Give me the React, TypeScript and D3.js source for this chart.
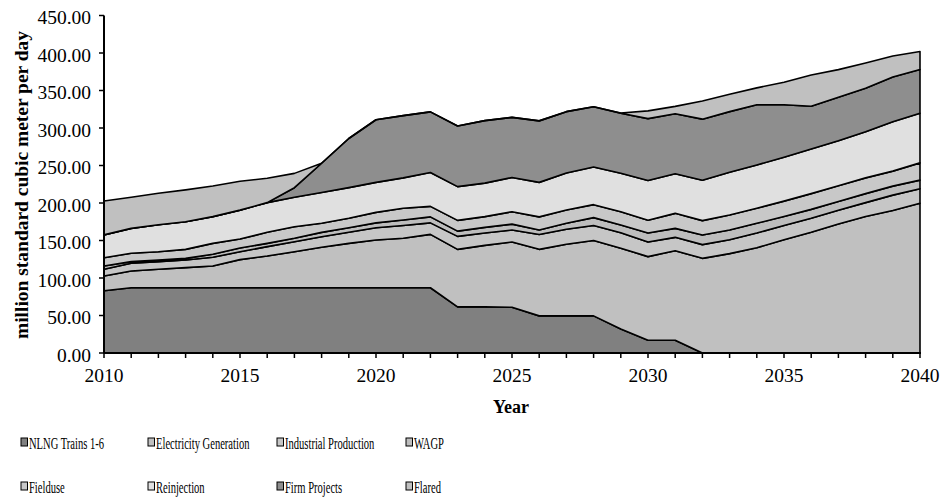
import React from "react";
import * as d3 from "d3";

// Gas demand by use, million standard cubic meter per day
const YEARS = [
  2010, 2011, 2012, 2013, 2014, 2015, 2016, 2017, 2018, 2019, 2020,
  2021, 2022, 2023, 2024, 2025, 2026, 2027, 2028, 2029, 2030,
  2031, 2032, 2033, 2034, 2035, 2036, 2037, 2038, 2039, 2040,
];

const NLNG = [83, 87, 87, 87, 87, 87, 87, 87, 87, 87, 87, 87, 87, 61.5, 61.5, 61, 49.5, 49.5, 49.5, 32, 17, 17, 0, 0, 0, 0, 0, 0, 0, 0, 0];
const ELECTRICITY = [19.7, 22.3, 24.6, 26.8, 29, 37.5, 42.3, 48.1, 53.9, 59.2, 63.7, 66, 71.2, 76.7, 82, 87, 88.7, 95.5, 100.5, 107.6, 111.5, 119.4, 126.2, 132.5, 140.3, 151, 161, 172, 182, 190, 199.6];
const INDUSTRIAL = [8.9, 10.3, 10.2, 10.2, 11.6, 10.5, 12.5, 13.3, 14.1, 14.8, 16.3, 17, 15.3, 17.3, 16.5, 16, 19.8, 20, 20, 20.8, 19.5, 17.8, 18.3, 18.5, 19.7, 19, 18.6, 18.2, 18.5, 20.5, 19.4];
const WAGP = [4.4, 2.2, 2.2, 2.2, 4, 5, 4.4, 4.5, 5.8, 6.1, 6.5, 7.3, 8, 7, 7.5, 7.8, 6, 8, 10.5, 10.3, 12, 12, 12.8, 13, 12.9, 12, 11.9, 11.8, 12, 12, 11.5];
const FIELDUSE = [11, 11.1, 11.1, 12, 14.6, 12, 14.7, 15.5, 12.1, 12.5, 14, 15.6, 14, 14.3, 14.3, 16.6, 17.5, 17.7, 17.3, 17.7, 17, 20, 19.2, 20, 20, 20.5, 21, 21, 21, 20, 23];
const REINJECTION = [30.5, 33.3, 35.9, 36.8, 35.6, 38.5, 39.6, 39.2, 41.1, 40.9, 40, 40.6, 45.1, 45, 44.7, 45.6, 46, 49.3, 50.2, 51.2, 53, 52.8, 53.8, 57, 57.8, 58.5, 59.5, 60, 61.5, 65.9, 66.1];
const FIRM_PROJECTS = [0, 0, 0, 0, 0, 0, 0, 12.8, 39, 65.5, 83.5, 83, 80.9, 80.9, 83.3, 80.2, 82, 81.8, 80.4, 80, 82.5, 80, 81.5, 80.8, 80.3, 70, 57, 58, 58, 59.6, 58.4];
const FLARED = [45.2, 41.4, 42, 42.5, 40.9, 38.5, 32.5, 19.1, 0, 0, 0, 0, 0, 0, 0, 0, 0, 0, 0, 0.5, 10.3, 9.8, 24.2, 23.2, 22.5, 30, 41.7, 36.8, 33.6, 28, 24];

const SERIES_NAMES = [
  "NLNG Trains 1-6",
  "Electricity Generation",
  "Industrial Production",
  "WAGP",
  "Fielduse",
  "Reinjection",
  "Firm Projects",
  "Flared",
];
const SERIES_VALUES = [NLNG, ELECTRICITY, INDUSTRIAL, WAGP, FIELDUSE, REINJECTION, FIRM_PROJECTS, FLARED];

const Y_TICKS = [0, 50, 100, 150, 200, 250, 300, 350, 400, 450];
const X_LABELS = [2010, 2015, 2020, 2025, 2030, 2035, 2040];

// Styling
const FILLS = ["#808080", "#c0c0c0", "#c6c6c6", "#bdbdbd", "#c8c8c8", "#e0e0e0", "#8e8e8e", "#c0c0c0"];
const SERIF = "'Liberation Serif', 'Times New Roman', Times, serif";

const W = 942;
const H = 497;
const PLOT = { left: 104, right: 920, top: 15.5, bottom: 353 };

export default function App() {
  const x = d3.scaleLinear().domain([2010, 2040]).range([PLOT.left, PLOT.right]);
  const y = d3.scaleLinear().domain([0, 450]).range([PLOT.bottom, PLOT.top]);

  const keys = SERIES_NAMES;
  const rows = YEARS.map((yr, i) => {
    const r: Record<string, number> = { year: yr };
    keys.forEach((k, j) => (r[k] = SERIES_VALUES[j][i]));
    return r;
  });
  const stacked = d3.stack<Record<string, number>>().keys(keys)(rows);

  const area = d3
    .area<any>()
    .x((d) => x(d.data.year))
    .y0((d) => y(d[0]))
    .y1((d) => y(d[1]));

  const legendCols = [21, 148, 277, 406];
  const legendRows = [438, 482];

  return (
    <svg
      width={W}
      height={H}
      style={{ position: "absolute", left: 0, top: 0, background: "#fff" }}
      fontFamily={SERIF}
    >
      {/* stacked areas */}
      <g>
        {stacked.map((s, i) => (
          <path
            key={s.key}
            d={area(s) || ""}
            fill={FILLS[i]}
            stroke="#000"
            strokeWidth={1.6}
            strokeLinejoin="round"
          />
        ))}
      </g>

      {/* y axis */}
      <line x1={PLOT.left} x2={PLOT.left} y1={PLOT.top} y2={PLOT.bottom} stroke="#000" strokeWidth={2} />
      {Y_TICKS.map((t) => (
        <g key={t}>
          <line x1={PLOT.left - 5} x2={PLOT.left} y1={y(t)} y2={y(t)} stroke="#000" strokeWidth={1.5} />
          <text x={PLOT.left - 13} y={y(t) + 8.5} textAnchor="end" fontSize={19.5} fill="#000">
            {d3.format(".2f")(t)}
          </text>
        </g>
      ))}

      {/* x axis */}
      <line x1={PLOT.left} x2={PLOT.right + 1} y1={PLOT.bottom} y2={PLOT.bottom} stroke="#000" strokeWidth={2} />
      {YEARS.map((yr) => (
        <line key={yr} x1={x(yr)} x2={x(yr)} y1={PLOT.bottom} y2={PLOT.bottom + 5} stroke="#000" strokeWidth={1.5} />
      ))}
      {X_LABELS.map((yr) => (
        <text key={yr} x={x(yr)} y={382} textAnchor="middle" fontSize={19.5} fill="#000">
          {yr}
        </text>
      ))}

      {/* axis titles */}
      <text x={511} y={413} textAnchor="middle" fontSize={18} fontWeight="bold" fill="#000">
        Year
      </text>
      <text
        transform={`translate(28,185) rotate(-90)`}
        textAnchor="middle"
        fontSize={18}
        fontWeight="bold"
        fill="#000"
        textLength={308}
        lengthAdjust="spacingAndGlyphs"
      >
        million standard cubic meter per day
      </text>

      {/* legend */}
      {SERIES_NAMES.map((name, i) => {
        const lx = legendCols[i % 4];
        const ly = legendRows[Math.floor(i / 4)];
        return (
          <g key={name} transform={`translate(${lx},${ly})`}>
            <rect x={0} y={0} width={6.5} height={8} fill={FILLS[i]} stroke="#000" strokeWidth={1} />
            <g transform="translate(8,11) scale(0.64,1)">
              <text x={0} y={0} fontSize={16.5} fill="#000">
                {name}
              </text>
            </g>
          </g>
        );
      })}
    </svg>
  );
}
